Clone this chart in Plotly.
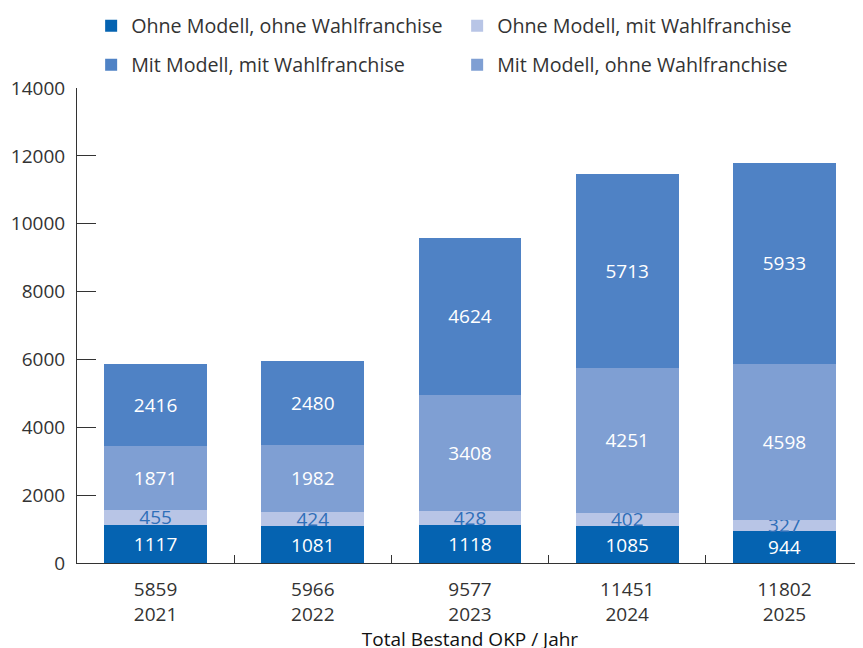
import plotly.graph_objects as go

years = ["2021", "2022", "2023", "2024", "2025"]
totals = [5859, 5966, 9577, 11451, 11802]
ohne_ohne = [1117, 1081, 1118, 1085, 944]
ohne_mit = [455, 424, 428, 402, 327]
mit_ohne = [1871, 1982, 3408, 4251, 4598]
mit_mit = [2416, 2480, 4624, 5713, 5933]
y_ticks = [0, 2000, 4000, 6000, 8000, 10000, 12000, 14000]

cats = [f"{t}<br>{y}" for t, y in zip(totals, years)]

FONT = "Open Sans"
TXT = "#333333"
FS = 19

series = [
    ("Ohne Modell, ohne Wahlfranchise", ohne_ohne, "#0563b1", "white", "legend"),
    ("Ohne Modell, mit Wahlfranchise", ohne_mit, "#b8c5e6", "#2f6fb9", "legend"),
    ("Mit Modell, ohne Wahlfranchise", mit_ohne, "#7f9fd3", "white", "legend2"),
    ("Mit Modell, mit Wahlfranchise", mit_mit, "#4f82c5", "white", "legend2"),
]
ranks = {"Ohne Modell, ohne Wahlfranchise": 1, "Ohne Modell, mit Wahlfranchise": 2,
         "Mit Modell, mit Wahlfranchise": 3, "Mit Modell, ohne Wahlfranchise": 4}

fig = go.Figure()
for name, vals, col, tcol, lg in series:
    fig.add_trace(go.Bar(
        x=cats, y=vals, name=name, marker=dict(color=col, line=dict(width=0)),
        text=vals, texttemplate="%{text}", textposition="inside",
        insidetextanchor="middle", constraintext="none",
        textfont=dict(color=tcol, size=FS, family=FONT),
        legend=lg, legendrank=ranks[name],
    ))

# page body has an 8px margin: compensate in the figure margins
leg_common = dict(orientation="h", x=0.018, xanchor="left", yanchor="middle",
                  entrywidth=321, entrywidthmode="pixels",
                  font=dict(size=19.7, color=TXT, family=FONT),
                  bgcolor="rgba(0,0,0,0)", traceorder="normal")

fig.update_layout(
    barmode="stack", bargap=0.345,
    width=863, height=648,
    margin=dict(l=69, r=8, t=80, b=93, autoexpand=False),
    paper_bgcolor="white", plot_bgcolor="white",
    font=dict(family=FONT, size=FS, color=TXT),
    uniformtext=dict(minsize=FS, mode="show"),
    showlegend=True,
    legend=dict(y=(555 - 18) / 475, **leg_common),
    legend2=dict(y=(555 - 57) / 475, **leg_common),
    xaxis=dict(showline=True, linecolor="#333333", linewidth=1, ticks="inside", ticklen=8,
               tickcolor="#333333", tickson="boundaries", showgrid=False, automargin=False,
               tickfont=dict(size=FS, color=TXT), ticklabelstandoff=9,
               title=dict(text="Total Bestand OKP / Jahr", font=dict(size=FS, color="#111111"), standoff=6)),
    yaxis=dict(range=[0, 14000], tickvals=y_ticks, tickformat="d", showline=True,
               linecolor="#333333", linewidth=1, automargin=False,
               ticks="inside", ticklen=19, tickcolor="#333333", showgrid=False, zeroline=False,
               tickfont=dict(size=FS, color=TXT), ticklabelstandoff=7),
)

fig.write_html("out.html")
